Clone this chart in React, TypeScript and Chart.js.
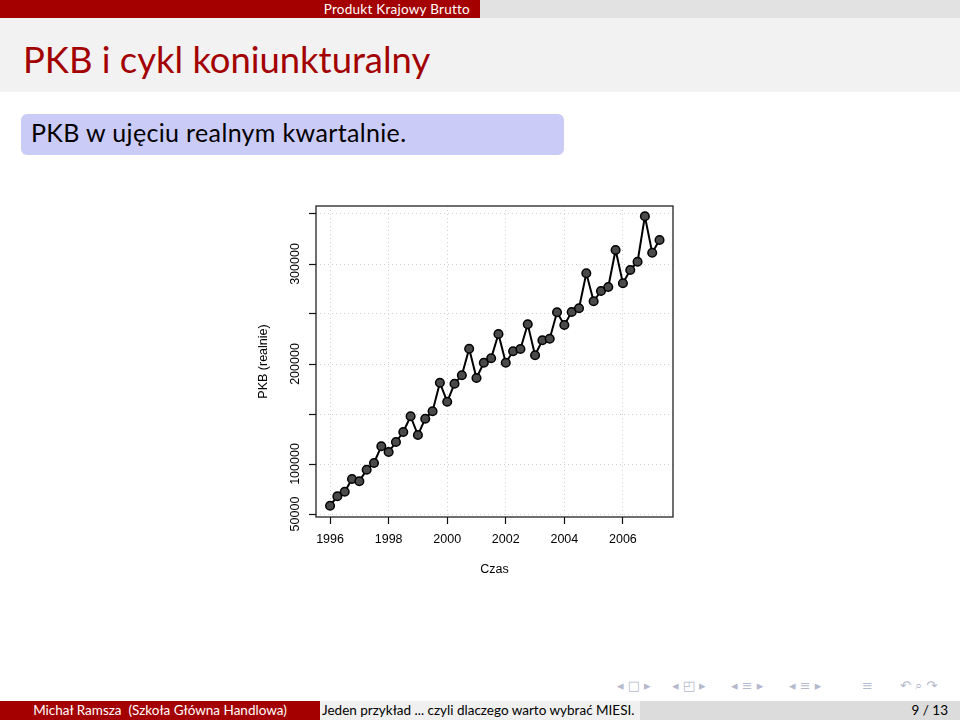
import React, { useEffect, useRef } from "react";
import { Chart, registerables } from "chart.js";

Chart.register(...registerables);

// ---- data ----
const years = [1996, 1997, 1998, 1999, 2000, 2001, 2002, 2003, 2004, 2005, 2006, 2007];
const quarterOffsets = [0, 0.25, 0.5, 0.75];
const gdpReal = [
  58300, 67700, 72300, 85000,
  82700, 94300, 101000, 117700,
  112000, 122000, 132000, 147700,
  129000, 145300, 152700, 181300,
  162300, 180300, 188700, 215300,
  186000, 201300, 205700, 230000,
  201300, 212700, 215000, 239700,
  208700, 223700, 225300, 251700,
  239000, 252000, 255700, 290700,
  262700, 273000, 277000, 314000,
  280700, 294000, 302300, 347700,
  311300, 324000,
];
const xTicks = [1996, 1998, 2000, 2002, 2004, 2006];
const yTicks = [50000, 100000, 150000, 200000, 250000, 300000, 350000];
const yTickLabels = ["50000", "100000", "", "200000", "", "300000", ""];

const axisFont = { family: '"Liberation Sans", Arial, Helvetica, sans-serif', size: 12.5 };
const slideFont = 'Lato, "Open Sans", sans-serif';

export default function App() {
  const ref = useRef<HTMLCanvasElement>(null);

  useEffect(() => {
    const canvas = ref.current;
    if (!canvas) return;
    const time = years.flatMap((y) => quarterOffsets.map((q) => y + q)).slice(0, gdpReal.length);
    const points = gdpReal.map((v, i) => ({ x: time[i], y: v }));

    const boxPlugin = {
      id: "rbox",
      beforeDatasetsDraw(chart: any) {
        const { ctx, chartArea: a } = chart;
        ctx.save();
        ctx.strokeStyle = "#222";
        ctx.lineWidth = 1.3;
        ctx.strokeRect(a.left, a.top, a.right - a.left, a.bottom - a.top);
        ctx.restore();
      },
    };

    const chart = new Chart(canvas, {
      type: "line",
      data: {
        datasets: [
          {
            data: points,
            borderColor: "#000",
            borderWidth: 2,
            pointRadius: 4.3,
            pointBackgroundColor: "#4a4a4a",
            pointBorderColor: "#000",
            pointBorderWidth: 1.5,
            tension: 0,
            fill: false,
          },
        ],
      },
      options: {
        responsive: false,
        animation: false,
        devicePixelRatio: 1,
        layout: { padding: { top: 16, right: 27, left: 0, bottom: 0 } },
        plugins: { legend: { display: false }, tooltip: { enabled: false } },
        scales: {
          x: {
            type: "linear",
            min: 1995.52,
            max: 2007.71,
            afterBuildTicks: (s: any) => {
              s.ticks = xTicks.map((v) => ({ value: v }));
            },
            afterFit: (s: any) => {
              s.height = 73;
            },
            ticks: {
              callback: (v: any) => String(v),
              font: axisFont,
              color: "#000",
              padding: 8.5,
              autoSkip: false,
              maxRotation: 0,
              minRotation: 0,
            },
            grid: {
              color: "#d0d0d0",
              lineWidth: 1,
              tickLength: 7,
              tickColor: "#111",
              tickWidth: 1.2,
              tickBorderDash: [],
            },
            border: { display: false, dash: [1, 3] },
            title: {
              display: true,
              text: "Czas",
              font: axisFont,
              color: "#000",
              padding: { top: 0, bottom: 12.5 },
            },
          },
          y: {
            type: "linear",
            min: 47000,
            max: 358000,
            afterBuildTicks: (s: any) => {
              s.ticks = yTicks.map((v) => ({ value: v }));
            },
            afterFit: (s: any) => {
              s.width = 86;
            },
            ticks: {
              callback: (_v: any, i: number) => yTickLabels[i],
              font: axisFont,
              color: "#000",
              padding: -7.35,
              autoSkip: false,
              minRotation: 90,
              maxRotation: 90,
              crossAlign: "center",
            },
            grid: {
              color: "#d0d0d0",
              lineWidth: 1,
              tickLength: 7,
              tickColor: "#111",
              tickWidth: 1.2,
              tickBorderDash: [],
            },
            border: { display: false, dash: [1, 3] },
            title: {
              display: true,
              text: "PKB (realnie)",
              font: axisFont,
              color: "#000",
              padding: { top: 26.5, bottom: 0 },
            },
          },
        },
      } as any,
      plugins: [boxPlugin],
    });
    return () => chart.destroy();
  }, []);

  const abs = (s: React.CSSProperties): React.CSSProperties => ({ position: "absolute", ...s });
  const nav = (left: number, text: string) => (
    <div
      style={abs({
        left,
        top: 678,
        fontSize: 13,
        lineHeight: "16px",
        color: "#b4b9cc",
        fontFamily: '"DejaVu Sans", sans-serif',
        whiteSpace: "pre",
      })}
    >
      {text}
    </div>
  );

  return (
    <div
      style={{
        position: "fixed",
        left: 0,
        top: 0,
        width: 960,
        height: 720,
        background: "#fff",
        overflow: "hidden",
        fontFamily: slideFont,
      }}
    >
      {/* header */}
      <div style={abs({ left: 0, top: 0, width: 480, height: 18, background: "#a40000" })}>
        <div
          style={abs({
            right: 10,
            top: 0,
            height: 18,
            lineHeight: "18px",
            fontSize: 13.5,
            letterSpacing: 0.25,
            color: "#fff",
            whiteSpace: "nowrap",
          })}
        >
          Produkt Krajowy Brutto
        </div>
      </div>
      <div style={abs({ left: 480, top: 0, width: 480, height: 18, background: "#e2e2e2" })} />

      {/* frame title */}
      <div style={abs({ left: 0, top: 18, width: 960, height: 74, background: "#f2f2f2" })} />
      <div
        style={abs({
          left: 23,
          top: 41,
          fontSize: 36.4,
          fontWeight: 400,
          lineHeight: "37px",
          color: "#a30000",
          whiteSpace: "nowrap",
        })}
      >
        PKB i cykl koniunkturalny
      </div>

      {/* block */}
      <div
        style={abs({
          left: 21,
          top: 114,
          width: 543,
          height: 41,
          borderRadius: 6,
          background: "#cbcbf7",
        })}
      />
      <div
        style={abs({
          left: 31,
          top: 120,
          fontSize: 25,
          letterSpacing: 0.35,
          lineHeight: "25px",
          color: "#000",
          whiteSpace: "nowrap",
        })}
      >
        PKB w ujęciu realnym kwartalnie.
      </div>

      {/* chart */}
      <canvas
        ref={ref}
        width={470}
        height={400}
        style={abs({ left: 230, top: 190, width: 470, height: 400 })}
      />

      {/* navigation symbols */}
      {nav(617, "◂ □ ▸")}
      {nav(672, "◂ ◰ ▸")}
      {nav(731, "◂ ≡ ▸")}
      {nav(789, "◂ ≡ ▸")}
      {nav(862, "≡")}
      {nav(900, "↶ ⌕ ↷")}

      {/* footer */}
      <div
        style={abs({
          left: 0,
          top: 701,
          width: 320,
          height: 19,
          background: "#a40000",
          color: "#fff",
          fontSize: 13.5,
          lineHeight: "19px",
          textAlign: "center",
          whiteSpace: "pre",
        })}
      >
        {"Michał Ramsza  (Szkoła Główna Handlowa)"}
      </div>
      <div
        style={abs({
          left: 320,
          top: 701,
          width: 320,
          height: 19,
          background: "#f0f0f0",
          color: "#000",
          fontSize: 13.5,
          lineHeight: "19px",
          whiteSpace: "nowrap",
        })}
      >
        <span style={{ marginLeft: 2 }}>Jeden przykład ... czyli dlaczego warto wybrać MIESI.</span>
      </div>
      <div
        style={abs({
          left: 640,
          top: 701,
          width: 320,
          height: 19,
          background: "#dcdcdc",
          color: "#000",
          fontSize: 13.5,
          lineHeight: "19px",
          textAlign: "right",
          whiteSpace: "nowrap",
        })}
      >
        <span style={{ marginRight: 12 }}>9 / 13</span>
      </div>
    </div>
  );
}
